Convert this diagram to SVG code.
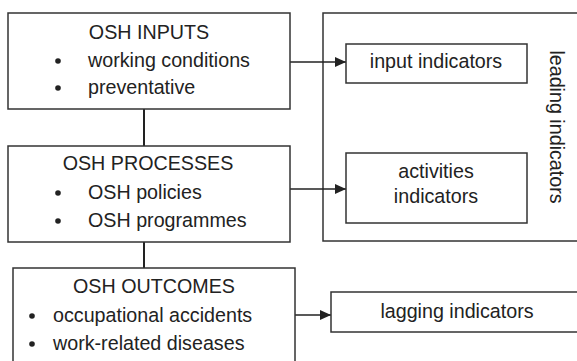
<svg xmlns="http://www.w3.org/2000/svg" width="577" height="361" viewBox="0 0 577 361">
<style>
.box{fill:#fff;stroke:#333;stroke-width:1.5}
.t{font-family:"Liberation Sans",Arial,sans-serif;font-size:19.7px;fill:#222}
.c{text-anchor:middle}
.b{fill:#222}
.ln{stroke:#222;stroke-width:2;fill:none}
.ar{stroke:#222;stroke-width:1.5;fill:none;marker-end:url(#ah)}
</style>
<defs>
<marker id="ah" markerWidth="12" markerHeight="10" refX="11" refY="5" orient="auto" markerUnits="userSpaceOnUse">
<path d="M0,0 L11,5 L0,10 Z" fill="#222"/>
</marker>
</defs>
<g id="leading">
<rect class="box" x="323" y="13" width="260" height="228"/>
<text class="t c" transform="translate(550,127) rotate(90)">leading indicators</text>
</g>
<g id="connectors">
<line class="ln" x1="144" y1="109" x2="144" y2="146"/>
<line class="ln" x1="144" y1="242" x2="144" y2="268"/>
<line class="ar" x1="290" y1="62" x2="346" y2="62"/>
<line class="ar" x1="290" y1="189" x2="346" y2="189"/>
<line class="ar" x1="295" y1="315" x2="331" y2="315"/>
</g>
<g id="inputs">
<rect class="box" x="8" y="13" width="282" height="96"/>
<text class="t c" x="149" y="39">OSH INPUTS</text>
<circle class="b" cx="58" cy="61" r="2.8"/>
<text class="t" x="88" y="67">working conditions</text>
<circle class="b" cx="58" cy="88" r="2.8"/>
<text class="t" x="88" y="94">preventative</text>
</g>
<g id="processes">
<rect class="box" x="8" y="146" width="282" height="96"/>
<text class="t c" x="148" y="170">OSH PROCESSES</text>
<circle class="b" cx="58" cy="193" r="2.8"/>
<text class="t" x="88" y="199">OSH policies</text>
<circle class="b" cx="58" cy="221" r="2.8"/>
<text class="t" x="88" y="227">OSH programmes</text>
</g>
<g id="outcomes">
<rect class="box" x="13" y="268" width="282" height="100"/>
<text class="t c" x="154" y="293">OSH OUTCOMES</text>
<circle class="b" cx="32" cy="316" r="2.8"/>
<text class="t" x="53" y="322">occupational accidents</text>
<circle class="b" cx="32" cy="344" r="2.8"/>
<text class="t" x="53" y="350">work-related diseases</text>
</g>
<g id="input-indicators">
<rect class="box" x="346" y="44" width="181" height="39"/>
<text class="t c" x="436" y="68">input indicators</text>
</g>
<g id="activities-indicators">
<rect class="box" x="346" y="153" width="181" height="70"/>
<text class="t c" x="436" y="178">activities</text>
<text class="t c" x="436" y="203">indicators</text>
</g>
<g id="lagging">
<rect class="box" x="331" y="292" width="260" height="40"/>
<text class="t c" x="457" y="318">lagging indicators</text>
</g>
</svg>
